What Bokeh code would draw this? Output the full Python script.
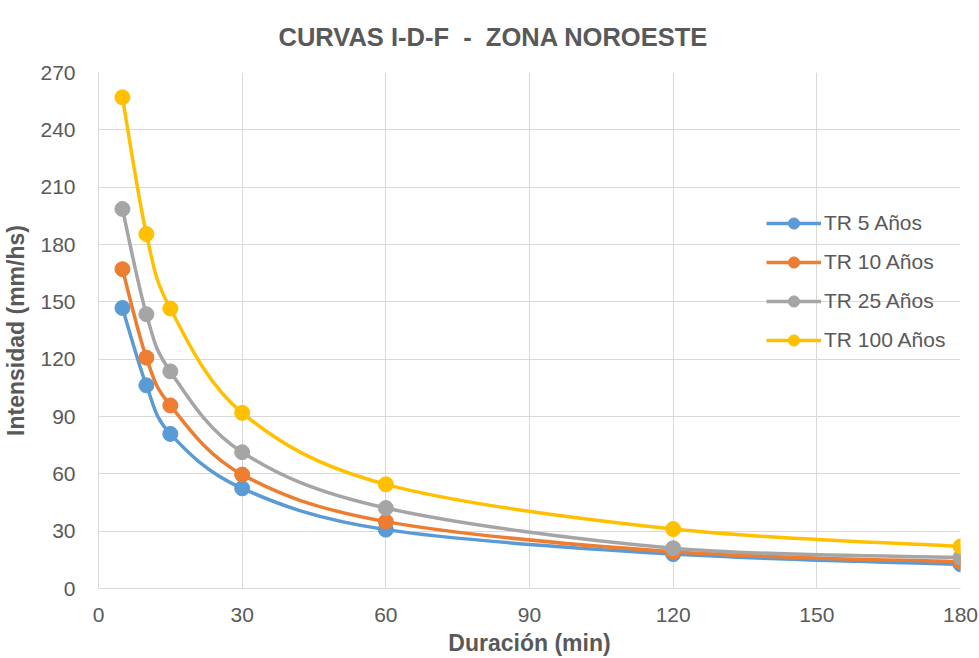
from bokeh.plotting import figure
from bokeh.models import Legend, LegendItem, FixedTicker, ColumnDataSource, Title
from bokeh.embed import file_html
from bokeh.resources import INLINE

durations = [5, 10, 15, 30, 60, 120, 180]
tr5 = [146.8, 106.3, 80.9, 52.4, 30.8, 18.0, 12.7]
tr10 = [167.1, 120.8, 95.8, 59.6, 35.0, 19.2, 14.0]
tr25 = [198.6, 143.5, 113.6, 71.3, 42.1, 21.1, 16.3]
tr100 = [257.0, 185.5, 146.5, 91.9, 54.5, 31.1, 22.0]
series_names = ["TR 5 Años", "TR 10 Años", "TR 25 Años", "TR 100 Años"]
colors = ["#5B9BD5", "#ED7D31", "#A5A5A5", "#FFC000"]
x_ticks = [0, 30, 60, 90, 120, 150, 180]
y_ticks = [0, 30, 60, 90, 120, 150, 180, 210, 240, 270]
title_text = "CURVAS I-D-F \u00a0-\u00a0 ZONA NOROESTE"

TXT = "#595959"
FONT = "Liberation Sans"

p = figure(width=979, height=658, output_backend="svg", toolbar_location=None,
           x_range=(0, 180), y_range=(0, 270),
           min_border_left=97, min_border_right=19, min_border_top=72, min_border_bottom=70)
p.title = Title(text=title_text, align="left", vertical_align="top",
                text_font=FONT, text_font_size="25.5px", text_color=TXT, text_font_style="bold",
                offset=180, standoff=40)
p.outline_line_color = None
p.background_fill_color = "white"
p.border_fill_color = "white"

for ax in (p.xaxis[0], p.yaxis[0]):
    ax.axis_line_color = "#D9D9D9"
    ax.axis_line_width = 1
    ax.major_tick_line_color = None
    ax.minor_tick_line_color = None
    ax.major_label_text_font = FONT
    ax.major_label_text_font_size = "21px"
    ax.major_label_text_color = TXT
    ax.axis_label_text_font = FONT
    ax.axis_label_text_font_size = "23px"
    ax.axis_label_text_font_style = "bold"
    ax.axis_label_text_color = TXT

p.xaxis.ticker = FixedTicker(ticks=x_ticks)
p.yaxis.ticker = FixedTicker(ticks=y_ticks)
p.xaxis.axis_label = "Duración (min)"
p.yaxis.axis_label = "Intensidad (mm/hs)"
p.xaxis.major_label_standoff = 13
p.yaxis.major_label_standoff = 17
p.xaxis.axis_label_standoff = 5
p.yaxis.axis_label_standoff = 8

p.xgrid.ticker = FixedTicker(ticks=x_ticks)
p.ygrid.ticker = FixedTicker(ticks=y_ticks)
p.xgrid.grid_line_color = "#D9D9D9"
p.ygrid.grid_line_color = "#D9D9D9"
p.xgrid.grid_line_width = 1
p.ygrid.grid_line_width = 1


def smooth_segments(xs, ys):
    n = len(xs)
    x0, y0, x1, y1, cx0, cy0, cx1, cy1 = [], [], [], [], [], [], [], []
    for i in range(n - 1):
        xp = xs[i - 1] if i > 0 else xs[i]
        yp = ys[i - 1] if i > 0 else ys[i]
        xn = xs[i + 2] if i + 2 < n else xs[i + 1]
        yn = ys[i + 2] if i + 2 < n else ys[i + 1]
        x0.append(xs[i]); y0.append(ys[i])
        x1.append(xs[i + 1]); y1.append(ys[i + 1])
        cx0.append(xs[i] + (xs[i + 1] - xp) / 6.0)
        cy0.append(ys[i] + (ys[i + 1] - yp) / 6.0)
        cx1.append(xs[i + 1] - (xn - xs[i]) / 6.0)
        cy1.append(ys[i + 1] - (yn - ys[i]) / 6.0)
    return dict(x0=x0, y0=y0, x1=x1, y1=y1, cx0=cx0, cy0=cy0, cx1=cx1, cy1=cy1)


items = []
for name, vals, c in zip(series_names, [tr5, tr10, tr25, tr100], colors):
    src = ColumnDataSource(smooth_segments(durations, vals))
    b = p.bezier(x0="x0", y0="y0", x1="x1", y1="y1", cx0="cx0", cy0="cy0",
                 cx1="cx1", cy1="cy1", source=src, line_color=c, line_width=3.5)
    s = p.scatter(durations, vals, size=15, fill_color=c, line_color=c, marker="circle")
    items.append(LegendItem(label=name, renderers=[b, s]))

legend = Legend(items=items, location=(668, 234), orientation="vertical",
                border_line_color=None, background_fill_alpha=0,
                label_text_font=FONT, label_text_font_size="21px", label_text_color=TXT,
                glyph_width=55, glyph_height=28, label_height=28, label_standoff=3,
                spacing=11, padding=0, margin=0)
p.add_layout(legend, "center")

open("out.html", "w").write(file_html(p, INLINE))
